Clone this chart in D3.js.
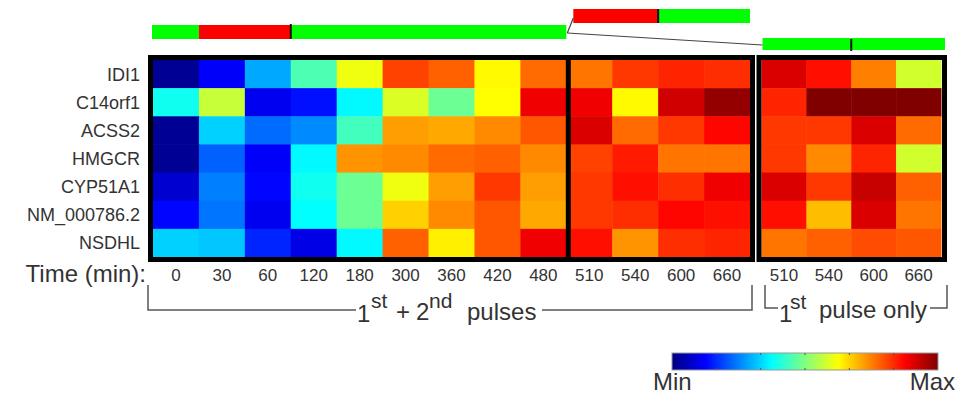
<!DOCTYPE html>
<html><head><meta charset="utf-8">
<script src="https://cdn.jsdelivr.net/npm/d3@7"></script>
<style>html,body{margin:0;padding:0;background:#fff;}svg{display:block;font-family:Arial,"Liberation Sans",sans-serif;}</style>
</head><body>
<script>
const genes = ["IDI1","C14orf1","ACSS2","HMGCR","CYP51A1","NM_000786.2","NSDHL"];
const timesBoth = ["0","30","60","120","180","300","360","420","480","510","540","600","660"];
const timesFirst = ["510","540","600","660"];
// relative expression (0 = Min, 1 = Max)
const valuesBoth = [
  [0.02,0.12,0.29,0.45,0.61,0.81,0.78,0.63,0.77,0.76,0.82,0.84,0.83],
  [0.39,0.57,0.11,0.14,0.37,0.59,0.48,0.625,0.89,0.89,0.63,0.92,0.98],
  [0.02,0.33,0.23,0.26,0.44,0.72,0.71,0.74,0.79,0.91,0.77,0.82,0.87],
  [0.02,0.22,0.12,0.37,0.73,0.74,0.77,0.78,0.74,0.81,0.85,0.76,0.76],
  [0.08,0.25,0.13,0.39,0.48,0.61,0.72,0.82,0.72,0.82,0.86,0.83,0.89],
  [0.13,0.24,0.11,0.375,0.48,0.67,0.74,0.79,0.71,0.82,0.83,0.87,0.86],
  [0.33,0.32,0.16,0.10,0.37,0.78,0.64,0.79,0.89,0.86,0.73,0.83,0.84]
];
const valuesFirst = [
  [0.91,0.86,0.75,0.58],
  [0.84,1.0,1.0,1.0],
  [0.82,0.82,0.91,0.77],
  [0.82,0.74,0.84,0.58],
  [0.91,0.82,0.93,0.78],
  [0.86,0.69,0.91,0.76],
  [0.76,0.78,0.80,0.79]
];
// pulse schedule per column (1 = pulse on)
const pulseBoth = [0,1,1,0,0,0,0,0,0,1,1,0,0];
const pulseFirst = [0,0,0,0];
const groupLabels = ["pulses","pulse only"];

const W = 958, H = 398;
const svg = d3.select("body").append("svg").attr("width", W).attr("height", H);

const jetStops = [0, 1/8, 3/8, 5/8, 7/8, 1];
const jetCols = ["#000080","#0000ff","#00ffff","#ffff00","#ff0000","#800000"];
const color = d3.scaleLinear().domain(jetStops).range(jetCols).interpolate(d3.interpolateRgb).clamp(true);

const y = d3.scaleBand().domain(genes).range([60, 257]);
const xL = d3.scaleBand().domain(d3.range(timesBoth.length)).range([153, 750]);
const xR = d3.scaleBand().domain(d3.range(timesFirst.length)).range([761.5, 941]);

// cells
const gL = svg.append("g");
valuesBoth.forEach((row, i) => {
  gL.selectAll(null).data(row).enter().append("rect")
    .attr("x", (d, j) => xL(j)).attr("y", y(genes[i]))
    .attr("width", xL.bandwidth() + 0.5).attr("height", y.bandwidth() + 0.5)
    .attr("fill", d => color(d));
});
const gR = svg.append("g");
valuesFirst.forEach((row, i) => {
  gR.selectAll(null).data(row).enter().append("rect")
    .attr("x", (d, j) => xR(j)).attr("y", y(genes[i]))
    .attr("width", xR.bandwidth() + 0.5).attr("height", y.bandwidth() + 0.5)
    .attr("fill", d => color(d));
});

// frames
svg.append("rect").attr("x", 150.5).attr("y", 57.5).attr("width", 602).attr("height", 202)
  .attr("fill", "none").attr("stroke", "#000").attr("stroke-width", 5);
svg.append("rect").attr("x", 759).attr("y", 57.5).attr("width", 185.5).attr("height", 202)
  .attr("fill", "none").attr("stroke", "#000").attr("stroke-width", 5);
const divX = xL(9);
svg.append("line").attr("x1", divX + 2).attr("x2", divX + 2).attr("y1", 57).attr("y2", 260)
  .attr("stroke", "#000").attr("stroke-width", 5);

// row labels
svg.append("g").selectAll("text").data(genes).enter().append("text")
  .attr("x", 140).attr("y", d => y(d) + y.bandwidth() / 2 + 6.5)
  .attr("text-anchor", "end").attr("font-size", 18).attr("fill", "#333").text(d => d);

// time labels
svg.append("text").attr("x", 146).attr("y", 282).attr("text-anchor", "end")
  .attr("font-size", 24).attr("fill", "#333").text("Time (min):");
svg.append("g").selectAll("text").data(timesBoth).enter().append("text")
  .attr("x", (d, j) => xL(j) + xL.bandwidth() / 2).attr("y", 281)
  .attr("text-anchor", "middle").attr("font-size", 17).attr("fill", "#333").text(d => d);
svg.append("g").selectAll("text").data(timesFirst).enter().append("text")
  .attr("x", (d, j) => xR(j) + xR.bandwidth() / 2).attr("y", 281)
  .attr("text-anchor", "middle").attr("font-size", 17).attr("fill", "#333").text(d => d);

// brackets
const br = svg.append("g").attr("fill", "none").attr("stroke", "#555").attr("stroke-width", 1.5);
br.append("path").attr("d", "M148,285V310H356");
br.append("path").attr("d", "M542,310H752V285");
br.append("path").attr("d", "M765,285V308H778");
br.append("path").attr("d", "M930,308H947V285");

const t1 = svg.append("text").attr("font-size", 24).attr("fill", "#333");
t1.append("tspan").attr("x", 357).attr("y", 322).text("1");
t1.append("tspan").attr("x", 371).attr("y", 308).attr("font-size", 21).text("st");
t1.append("tspan").attr("x", 396).attr("y", 320).text("+");
t1.append("tspan").attr("x", 416).attr("y", 320).text("2");
t1.append("tspan").attr("x", 429).attr("y", 308).attr("font-size", 21).text("nd");
t1.append("tspan").attr("x", 467).attr("y", 320).text(groupLabels[0]);
const t2 = svg.append("text").attr("font-size", 24).attr("fill", "#333");
t2.append("tspan").attr("x", 779).attr("y", 322).text("1");
t2.append("tspan").attr("x", 790).attr("y", 309).attr("font-size", 21).text("st");
t2.append("tspan").attr("x", 819).attr("y", 318).text(groupLabels[1]);

// pulse schedule bars
function runs(arr) {
  const out = []; let s = 0;
  for (let i = 1; i <= arr.length; i++) {
    if (i === arr.length || arr[i] !== arr[s]) { out.push({ from: s, to: i - 1, on: arr[s] }); s = i; }
  }
  return out;
}
const GREEN = "#00ff00", RED = "#ff0000";
const bars = svg.append("g");
// lower section (columns 0..8)
runs(pulseBoth.slice(0, 9)).forEach(r => {
  const x0 = r.from === 0 ? xL(0) - 1 : xL(r.from);
  const x1 = xL(r.to) + xL.bandwidth();
  bars.append("rect").attr("x", x0).attr("y", 25).attr("width", x1 - x0).attr("height", 14)
    .attr("fill", r.on ? RED : GREEN);
});
// upper section (columns 9..12)
runs(pulseBoth.slice(9)).forEach(r => {
  const a = r.from + 9, b = r.to + 9;
  const x0 = a === 9 ? xL(9) + 7 : xL(a);
  const x1 = xL(b) + xL.bandwidth();
  bars.append("rect").attr("x", x0).attr("y", 9).attr("width", x1 - x0).attr("height", 14)
    .attr("fill", r.on ? RED : GREEN);
});
// first-pulse-only bar
runs(pulseFirst).forEach(r => {
  const x0 = xR(r.from) + 1;
  const x1 = r.to === pulseFirst.length - 1 ? xR(r.to) + xR.bandwidth() + 4 : xR(r.to) + xR.bandwidth();
  bars.append("rect").attr("x", x0).attr("y", 38).attr("width", x1 - x0).attr("height", 12)
    .attr("fill", r.on ? RED : GREEN);
});
// pulse-end markers
const tk = svg.append("g").attr("stroke", "#111").attr("stroke-width", 2);
tk.append("line").attr("x1", xL(3)).attr("x2", xL(3)).attr("y1", 24).attr("y2", 39);
tk.append("line").attr("x1", xL(11)).attr("x2", xL(11)).attr("y1", 9).attr("y2", 23);
tk.append("line").attr("x1", xR(2)).attr("x2", xR(2)).attr("y1", 39).attr("y2", 51);
// branch lines
const bl = svg.append("g").attr("stroke", "#444").attr("stroke-width", 1.2).attr("fill", "none");
bl.append("path").attr("d", `M${xL(9)+1},33L${xL(9)+7},18`);
bl.append("path").attr("d", `M${xL(9)+1},33L${xR(0)+1},45`);

// colorbar
const cbX = 672, cbW = 266, cbY = 353, cbH = 17;
const defs = svg.append("defs");
const grad = defs.append("linearGradient").attr("id", "jet").attr("x1", "0%").attr("x2", "100%");
d3.range(0, 1.0001, 1/32).forEach(t => grad.append("stop").attr("offset", (t * 100) + "%").attr("stop-color", color(t)));
svg.append("rect").attr("x", cbX).attr("y", cbY).attr("width", cbW).attr("height", cbH)
  .attr("fill", "url(#jet)").attr("stroke", "#999").attr("stroke-width", 1);
const cbScale = d3.scaleLinear().domain([0, 1]).range([cbX, cbX + cbW]);
svg.append("g").selectAll("line").data(d3.range(1, 6).map(i => i / 6)).enter().append("line")
  .attr("x1", d => cbScale(d)).attr("x2", d => cbScale(d)).attr("y1", cbY).attr("y2", cbY + 2)
  .attr("stroke", "#555").attr("stroke-width", 1);
svg.append("g").selectAll("line").data(d3.range(1, 6).map(i => i / 6)).enter().append("line")
  .attr("x1", d => cbScale(d)).attr("x2", d => cbScale(d)).attr("y1", cbY + cbH - 2).attr("y2", cbY + cbH)
  .attr("stroke", "#555").attr("stroke-width", 1);
svg.append("text").attr("x", 653).attr("y", 390).attr("font-size", 24).attr("fill", "#333").text("Min");
svg.append("text").attr("x", 955).attr("y", 390).attr("text-anchor", "end").attr("font-size", 24).attr("fill", "#333").text("Max");
</script>
</body></html>
